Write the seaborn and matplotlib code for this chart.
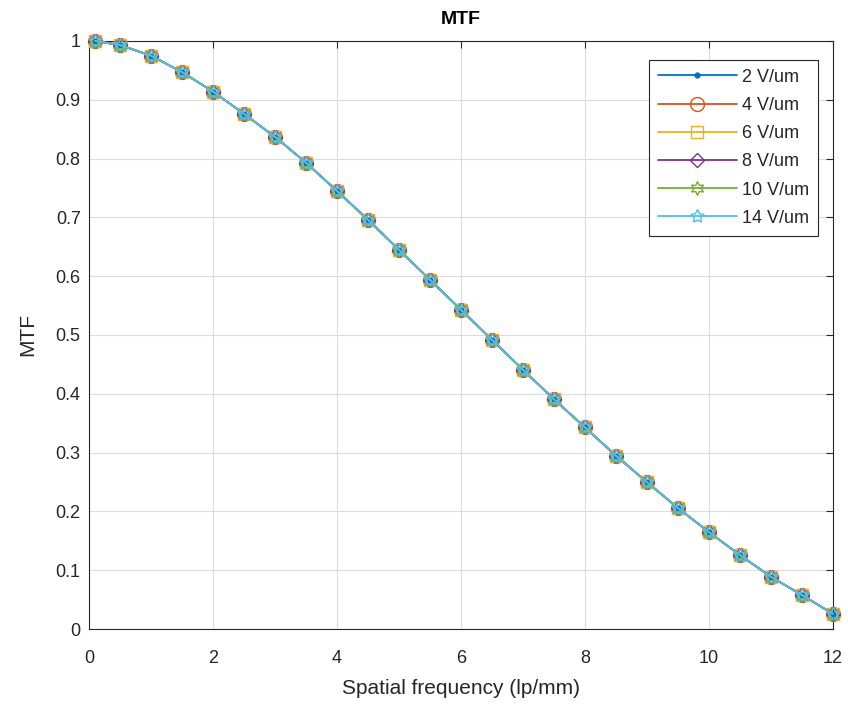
import matplotlib
matplotlib.use("Agg")
import matplotlib.pyplot as plt
import seaborn as sns
import numpy as np
import pandas as pd

freq = [0.1, 0.5, 1.0, 1.5, 2.0, 2.5, 3.0, 3.5, 4.0, 4.5, 5.0, 5.5, 6.0,
        6.5, 7.0, 7.5, 8.0, 8.5, 9.0, 9.5, 10.0, 10.5, 11.0, 11.5, 12.0]
mtf = [1.0, 0.993, 0.975, 0.947, 0.914, 0.876, 0.837, 0.793, 0.745, 0.696,
       0.645, 0.594, 0.543, 0.492, 0.441, 0.391, 0.343, 0.295, 0.250, 0.206,
       0.165, 0.126, 0.089, 0.058, 0.026]
labels = ["2 V/um", "4 V/um", "6 V/um", "8 V/um", "10 V/um", "14 V/um"]
series = {lab: mtf for lab in labels}

colors = ["#0072BD", "#D95319", "#EDB120", "#7E2F8E", "#77AC30", "#4DBEEE"]
markers = [".", "o", "s", "D", (6, 1, 0), (5, 1, 0)]
msizes = [7, 10, 8, 7, 10, 10]

sns.set_style("white")
plt.rcParams['font.family'] = ['Liberation Sans', 'DejaVu Sans']

fig = plt.figure(figsize=(8.48, 7.06), dpi=100)
ax = fig.add_axes([0.105, 0.109, 0.877, 0.833])

for lab, c, m, ms in zip(labels, colors, markers, msizes):
    df = pd.DataFrame({"x": freq, "y": series[lab]})
    sns.lineplot(data=df, x="x", y="y", ax=ax, color=c, marker=m,
                 markersize=ms, markerfacecolor="none" if m != "." else c,
                 markeredgecolor=c, markeredgewidth=1.0, linewidth=1.3,
                 label=lab, clip_on=False, zorder=3)

ax.set_xlim(0, 12)
ax.set_ylim(0, 1)
ax.set_xticks(np.arange(0, 13, 2))
ax.set_yticks(np.round(np.arange(0, 1.01, 0.1), 1))
ax.set_yticklabels(["0", "0.1", "0.2", "0.3", "0.4", "0.5", "0.6", "0.7", "0.8", "0.9", "1"])
ax.grid(True, color="#dcdcdc", linewidth=0.8)
ax.set_axisbelow(True)
for s in ax.spines.values():
    s.set_color("#262626")
    s.set_linewidth(0.8)
ax.tick_params(direction="in", length=5, width=0.8, colors="#262626",
               labelsize=13, top=True, right=True, labelcolor="#262626", pad=6)
ax.tick_params(axis="x", pad=15)
ax.set_xlabel("Spatial frequency (lp/mm)", fontsize=15, color="#262626", labelpad=9)
ax.set_ylabel("MTF", fontsize=15, color="#262626", labelpad=13)
ax.set_title("MTF", fontsize=14, fontweight="bold", color="#000000", pad=12)

leg = ax.legend(loc="upper right", bbox_to_anchor=(0.98, 0.968), fontsize=13,
                fancybox=False, edgecolor="#262626", framealpha=1,
                handlelength=4.4, borderpad=0.5, labelspacing=0.62,
                handletextpad=0.25, borderaxespad=0)
leg.get_frame().set_linewidth(0.8)
leg.set_zorder(5)

fig.savefig("out.png", dpi=100, facecolor="white")
